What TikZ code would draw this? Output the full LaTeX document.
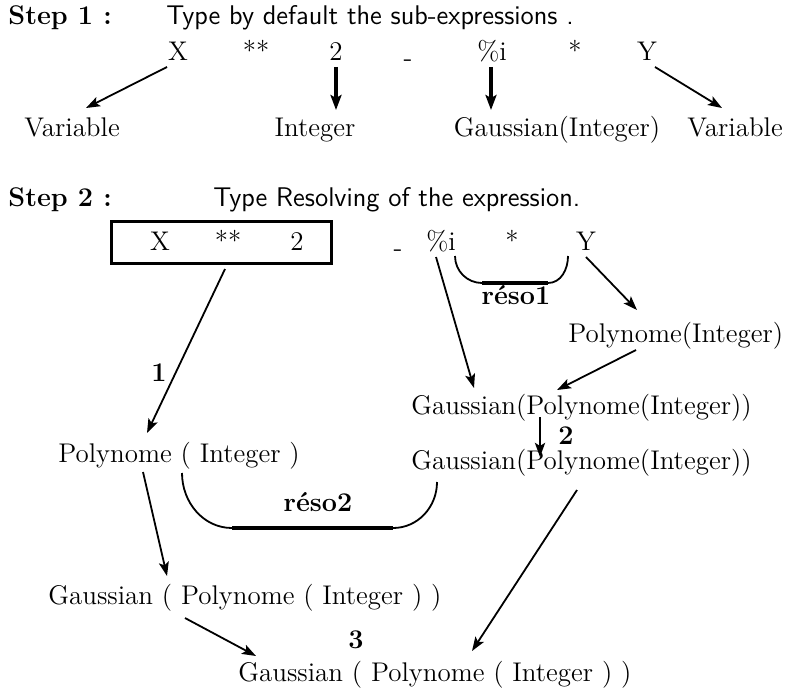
\documentclass[tikz,border=0pt]{standalone}
\usetikzlibrary{arrows.meta,calc}
\begin{document}
\begin{tikzpicture}[x=0.5pt,y=-0.5pt,
  txt/.style={inner sep=0pt,anchor=base,font=\fontsize{13.5}{16}\selectfont},
  txtw/.style={txt,anchor=base west},
  sftxt/.style={txtw,font=\fontsize{13.5}{16}\selectfont\sffamily},
  bftxt/.style={txtw,font=\fontsize{13.5}{16}\selectfont\bfseries},
  bflab/.style={txt,font=\fontsize{13.5}{16}\selectfont\bfseries},
  arr/.style={-{Stealth[length=7pt,width=5pt,inset=1.5pt]},line width=0.9pt},
  fatarr/.style={-{Stealth[length=7.5pt,width=5.5pt,inset=1.5pt]},line width=1.9pt},
  midarr/.style={-{Stealth[length=7pt,width=5pt,inset=1.5pt]},line width=1.4pt},
  brace/.style={line width=0.9pt},
  bracebar/.style={line width=1.8pt},
  exprbox/.style={draw,line width=1.5pt,minimum width=110pt,minimum height=21pt,inner sep=0pt}
]
\useasboundingbox (0,0) rectangle (785,690);

% ---------- Step 1 ----------
\node[bftxt] (st1) at (8,25) {Step 1 :};
\node[sftxt] (t1) at (166,25) {Type by default the sub-expressions .};

\node[txt] (x1) at (178,61) {X};
\node[txt] (p1) at (256,61) {**};
\node[txt] (n1) at (336,61) {2};
\node[txt] (m1) at (408,67) {-};
\node[txt] (i1) at (492,61) {\%i};
\node[txt] (s1) at (575,61) {*};
\node[txt] (y1) at (647,61) {Y};

\node[txt] (v1) at (72,136) {Variable};
\node[txt] (int1) at (315,136) {Integer};
\node[txt] (gi1) at (557,136) {Gaussian(Integer)};
\node[txt] (v2) at (735,136) {Variable};

\draw[arr] ($(x1.base)+(-11,6)$) -- ($(v1.base)+(14,-28)$);
\draw[fatarr] ($(n1.base)+(0,6)$) -- ($(int1.base)+(21,-26)$);
\draw[fatarr] ($(i1.base)+(-1,6)$) -- ($(gi1.base)+(-66,-26)$);
\draw[arr] ($(y1.base)+(8,6)$) -- ($(v2.base)+(-13,-28)$);

% ---------- Step 2 ----------
\node[bftxt] (st2) at (8,206) {Step 2 :};
\node[sftxt] (t2) at (213,206) {Type Resolving of the expression.};

\node[exprbox] (box) at (221.5,242.5) {};
\node[txt] (x2) at (160,250) {X};
\node[txt] (p2) at (228,250) {**};
\node[txt] (n2) at (297,250) {2};
\node[txt] (m2) at (398,256) {-};
\node[txt] (i2) at (441,250) {\%i};
\node[txt] (s2) at (512,250) {*};
\node[txt] (y2) at (586,250) {Y};

% reso1
\coordinate (r1a) at ($(i2.base)+(14,6)$);
\coordinate (r1d) at ($(y2.base)+(-18,6)$);
\coordinate (r1b) at ($(r1a)+(27,27)$);
\coordinate (r1c) at ($(r1d)+(-20,27)$);
\draw[brace] (r1a) to[out=-90,in=180] (r1b) -- (r1c) to[out=0,in=-90] (r1d);
\draw[bracebar] (r1b) -- (r1c);
\node[bflab] (reso1) at (516,304) {réso1};

\node[txtw] (pi) at (568,342) {Polynome(Integer)};
\node[txtw] (gpi1) at (411,414) {Gaussian(Polynome(Integer))};
\node[txtw] (gpi2) at (411,469) {Gaussian(Polynome(Integer))};
\node[bflab] (lab2) at (566,444) {2};

\draw[arr] ($(i2.base)+(-5,7)$) -- ($(gpi1.base west)+(63,-26)$);
\draw[arr] ($(y2.base)+(0,7)$) -- ($(pi.base west)+(69,-32)$);
\draw[arr] ($(pi.base west)+(68,8)$) -- ($(gpi1.base west)+(146,-24)$);
\draw[midarr] ($(gpi1.base west)+(129,3)$) -- ($(gpi2.base west)+(129,-12)$);

\node[txtw] (pi2) at (58,462) {Polynome ( Integer )};
\node[bflab] (lab1) at (159,381) {1};
\draw[arr] ($(box.south)+(3.5,4)$) -- ($(pi2.base west)+(89,-29)$);

% reso2
\coordinate (r2a) at ($(pi2.base west)+(124,11)$);
\coordinate (r2d) at ($(gpi2.base west)+(26,13)$);
\coordinate (r2b) at (232,528);
\coordinate (r2c) at (393,528);
\draw[brace] (r2a) to[out=-90,in=180] (r2b) -- (r2c) to[out=0,in=-90] (r2d);
\draw[bracebar] (r2b) -- (r2c);
\node[bflab] (reso2) at (318,511) {réso2};

\node[txtw] (g2) at (48,604) {Gaussian ( Polynome ( Integer ) )};
\node[txtw] (fin) at (238,681) {Gaussian ( Polynome ( Integer ) )};
\node[bflab] (lab3) at (356,648) {3};

\draw[arr] ($(pi2.base west)+(85,10)$) -- ($(g2.base west)+(119,-28)$);
\draw[arr] ($(g2.base west)+(137,14)$) -- ($(fin.base west)+(18,-25)$);
\draw[arr] ($(gpi2.base west)+(166,21)$) -- ($(fin.base west)+(234,-30)$);
\end{tikzpicture}
\end{document}
